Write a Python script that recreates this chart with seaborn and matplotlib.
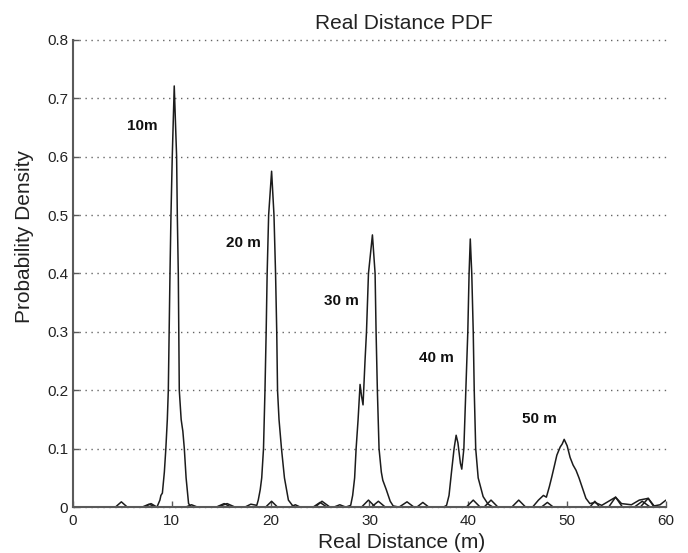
import numpy as np
import pandas as pd
import seaborn as sns
import matplotlib.pyplot as plt

#%% data (one PDF curve per true distance)
x10 = [0, 2.5, 4.3, 4.9, 5.5, 7.2, 7.9, 8.5, 8.8, 8.9, 9.05, 9.25, 9.4, 9.55, 9.65,
       9.82, 9.92, 10.05, 10.25, 10.49, 10.56, 10.66, 10.76, 10.95, 11.05, 11.12, 11.27,
       11.45, 11.7, 12.0, 14.5, 15.3, 16.0, 24.5, 25.2, 26.0, 39.8, 40.5, 41.2, 54.2,
       54.9, 55.6, 60]
y10 = [0, 0, 0, 0.009, 0, 0, 0.006, 0, 0.012, 0.02, 0.024, 0.06, 0.1, 0.15, 0.2,
       0.4, 0.5, 0.6, 0.721, 0.6, 0.5, 0.4, 0.2, 0.15, 0.138, 0.13, 0.1,
       0.05, 0.006, 0, 0, 0.006, 0, 0, 0.01, 0, 0, 0.012, 0, 0,
       0.017, 0, 0]

x20 = [0, 7.0, 7.7, 8.4, 11.4, 12.0, 12.6, 17.4, 18.0, 18.6, 18.75, 18.95, 19.1, 19.28,
       19.43, 19.55, 19.65, 19.8, 20.1, 20.34, 20.5, 20.62, 20.7, 20.85, 21.1, 21.4, 21.8,
       22.2, 22.6, 29.2, 29.9, 30.6, 41.6, 42.3, 43.0, 57.4, 58.2, 58.8, 60]
y20 = [0, 0, 0.005, 0, 0, 0.004, 0, 0, 0.005, 0.003, 0.012, 0.03, 0.05, 0.1,
       0.2, 0.3, 0.4, 0.5, 0.575, 0.5, 0.4, 0.3, 0.2, 0.15, 0.1, 0.05, 0.012,
       0.003, 0, 0, 0.012, 0, 0, 0.012, 0, 0, 0.015, 0, 0]

x30 = [0, 14.6, 15.6, 16.4, 22.0, 22.5, 23.0, 26.4, 27.0, 27.6, 28.1, 28.3, 28.5, 28.65,
       28.85, 29.05, 29.2, 29.35, 29.55, 29.7, 29.9, 30.3, 30.57, 30.67, 30.8, 30.97, 31.2,
       31.35, 31.7, 32.1, 32.4, 33.0, 33.8, 34.5, 44.4, 45.1, 45.8, 52.3, 52.8, 53.3, 60]
y30 = [0, 0, 0.006, 0, 0, 0.004, 0, 0, 0.004, 0, 0.003, 0.02, 0.05, 0.1,
       0.15, 0.21, 0.19, 0.175, 0.25, 0.3, 0.4, 0.466, 0.4, 0.3, 0.2, 0.1, 0.06,
       0.046, 0.03, 0.01, 0.002, 0, 0.009, 0, 0, 0.012, 0, 0, 0.01, 0, 0]

x40 = [0, 19.5, 20.1, 20.7, 34.8, 35.4, 36.0, 37.5, 37.8, 38.05, 38.3, 38.56, 38.77, 38.95,
       39.2, 39.34, 39.55, 39.75, 39.95, 40.08, 40.2, 40.35, 40.5, 40.6, 40.75, 41.0, 41.5,
       42.0, 42.5, 47.4, 48.0, 48.6, 56.8, 57.6, 58.4, 60]
y40 = [0, 0, 0.01, 0, 0, 0.008, 0, 0, 0.003, 0.02, 0.06, 0.1, 0.123, 0.11,
       0.075, 0.065, 0.1, 0.2, 0.3, 0.4, 0.459, 0.4, 0.3, 0.2, 0.1, 0.05, 0.018,
       0.005, 0, 0, 0.008, 0, 0, 0.01, 0, 0]

x50 = [0, 24.3, 25.0, 25.7, 30.2, 30.9, 31.6, 46.5, 47.1, 47.6, 47.9, 48.2, 48.45, 48.7,
       48.96, 49.3, 49.5, 49.7, 50.0, 50.3, 50.6, 50.9, 51.2, 51.5, 51.9, 52.3, 52.8,
       53.5, 54.2, 54.9, 55.5, 56.5, 57.3, 58.2, 58.8, 59.4, 60]
y50 = [0, 0, 0.008, 0, 0, 0.01, 0, 0, 0.012, 0.02, 0.017, 0.035, 0.052, 0.07,
       0.089, 0.103, 0.108, 0.116, 0.105, 0.085, 0.072, 0.063, 0.05, 0.035, 0.015, 0.006, 0.008,
       0.003, 0.01, 0.017, 0.006, 0.004, 0.012, 0.015, 0.002, 0.004, 0.012]

labels = ['10m', '20 m', '30 m', '40 m', '50 m']
label_x = [5.5, 15.5, 25.4, 35.0, 45.4]
label_y = [0.652, 0.453, 0.352, 0.256, 0.151]

curves = {'10m': (x10, y10), '20m': (x20, y20), '30m': (x30, y30),
          '40m': (x40, y40), '50m': (x50, y50)}
df = pd.concat([pd.DataFrame({'x': cx, 'y': cy, 'curve': k}) for k, (cx, cy) in curves.items()],
               ignore_index=True)

#%%
sns.set_theme(style='white')
plt.rcParams['font.family'] = ['Liberation Sans', 'DejaVu Sans']

fig = plt.figure(figsize=(6.88, 5.53), dpi=100)
ax = fig.add_axes([0.106, 0.083, 0.862, 0.845])

sns.lineplot(data=df, x='x', y='y', units='curve', estimator=None, sort=False,
             color='#1c1c1c', lw=1.1, ax=ax)

for t, lx, ly in zip(labels, label_x, label_y):
    ax.text(lx, ly, t, fontsize=11, fontweight='bold', va='center', ha='left', color='#111')

ax.set_xlim(0, 60)
ax.set_ylim(0, 0.8)
ax.set_xticks([0, 10, 20, 30, 40, 50, 60])
ax.set_yticks(np.round(np.arange(0, 0.81, 0.1), 1))
ax.set_yticklabels(['0', '0.1', '0.2', '0.3', '0.4', '0.5', '0.6', '0.7', '0.8'])

ax.yaxis.grid(True, color='#666', lw=1.0, linestyle=(0, (1, 3.3)))
for gl in ax.get_ygridlines():
    gl.set_clip_on(False)
ax.xaxis.grid(False)

for s in ['top', 'right']:
    ax.spines[s].set_visible(False)
for s in ['left', 'bottom']:
    ax.spines[s].set_color('#5a5a5a')
    ax.spines[s].set_linewidth(1.5)

ax.tick_params(axis='both', direction='in', length=4, width=1, color='#5a5a5a',
               labelsize=11, labelcolor='#222')
ax.tick_params(axis='x', pad=5)
ax.tick_params(axis='y', pad=3.5, left=True)
ax.tick_params(axis='x', bottom=True)

ax.set_title('Real Distance PDF', fontsize=15, x=0.558, pad=8, color='#222')
ax.set_xlabel('Real Distance (m)', fontsize=15, color='#222')
ax.set_ylabel('Probability Density', fontsize=15, color='#222')
ax.xaxis.set_label_coords(0.555, -0.055)
ax.yaxis.set_label_coords(-0.066, 0.58)

fig.savefig('out.png', dpi=100)
